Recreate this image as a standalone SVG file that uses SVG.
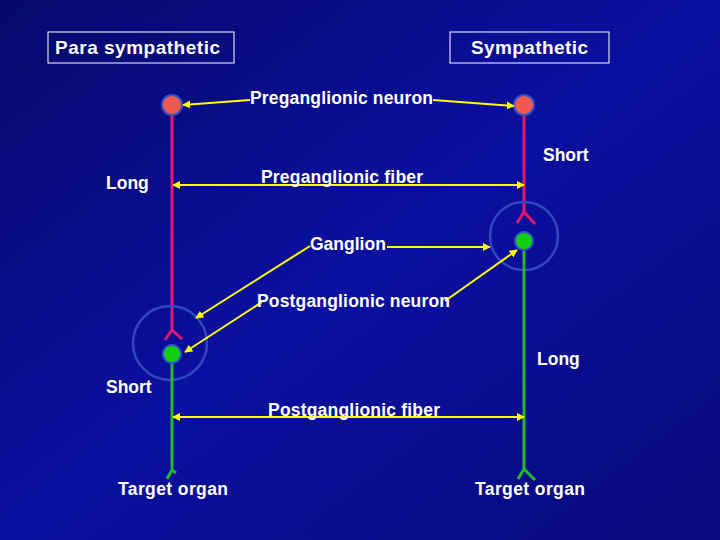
<svg xmlns="http://www.w3.org/2000/svg" width="720" height="540" viewBox="0 0 720 540">
<defs>
<linearGradient id="bg" x1="0" y1="0" x2="1" y2="1">
<stop offset="0" stop-color="#06086a"/><stop offset="0.5" stop-color="#0a10a0"/><stop offset="1" stop-color="#070a7a"/>
</linearGradient>
<marker id="ah" viewBox="0 0 10 10" refX="9" refY="5" markerWidth="4" markerHeight="4" orient="auto-start-reverse"><path d="M0,0L10,5L0,10z" fill="#ffff00"/></marker>
<style>
text{font-family:"Liberation Sans",Arial,sans-serif;font-weight:bold;fill:#fff;font-size:17.5px}
.t{font-size:19px}
.y{stroke:#ffff00;stroke-width:2;fill:none}
.r{stroke:#e0196e;stroke-width:3;fill:none}
.g{stroke:#22b830;stroke-width:3;fill:none}
.gc{stroke:#3048c0;stroke-width:2.5;fill:none}
.box{fill:none;stroke:#fff;stroke-width:1}
</style>
</defs>
<rect width="720" height="540" fill="url(#bg)"/>
<g id="titles">
<rect class="box" x="48" y="32" width="186" height="31"/><text class="t" x="55" y="54" textLength="165">Para sympathetic</text>
<rect class="box" x="450" y="32" width="159" height="31"/><text class="t" x="471" y="54" textLength="117">Sympathetic</text>
</g>
<g id="left-neurons">
<path class="r" d="M172,115V330M172,330L165,340M172,330L182,339"/>
<circle cx="170" cy="343" r="37" class="gc"/>
<path class="g" d="M172,363V470M172,470L167,479M172,470L176,473"/>
<circle cx="172" cy="105" r="10" fill="#f05a50" stroke="#3a50c8" stroke-width="2"/>
<circle cx="172" cy="354" r="9" fill="#10d010" stroke="#3a50c8" stroke-width="2"/>
</g>
<g id="right-neurons">
<path class="r" d="M524,115V212M524,212L517,223M524,212L535,224"/>
<circle cx="524" cy="236" r="34" class="gc"/>
<path class="g" d="M524,250V469M524,469L518,479M524,469L535,480"/>
<circle cx="524" cy="105" r="10" fill="#f05a50" stroke="#3a50c8" stroke-width="2"/>
<circle cx="524" cy="241" r="9" fill="#10d010" stroke="#3a50c8" stroke-width="2"/>
</g>
<g id="connectors">
<path class="y" d="M250,100L183,105" marker-end="url(#ah)"/>
<path class="y" d="M433,100L514,106" marker-end="url(#ah)"/>
<path class="y" d="M173,185H524" marker-start="url(#ah)" marker-end="url(#ah)"/>
<path class="y" d="M310,246L196,318" marker-end="url(#ah)"/>
<path class="y" d="M387,247L490,247" marker-end="url(#ah)"/>
<path class="y" d="M262,302L185,352" marker-end="url(#ah)"/>
<path class="y" d="M445,301L517,250" marker-end="url(#ah)"/>
<path class="y" d="M173,417H524" marker-start="url(#ah)" marker-end="url(#ah)"/>
</g>
<g id="labels">
<text x="250" y="104" textLength="183">Preganglionic neuron</text>
<text x="543" y="161">Short</text>
<text x="106" y="189">Long</text>
<text x="261" y="183" textLength="162">Preganglionic fiber</text>
<text x="310" y="250">Ganglion</text>
<text x="257" y="307" textLength="193">Postganglionic neuron</text>
<text x="537" y="365">Long</text>
<text x="106" y="393">Short</text>
<text x="268" y="416" textLength="172">Postganglionic fiber</text>
<text x="118" y="495" textLength="110">Target organ</text>
<text x="475" y="495" textLength="110">Target organ</text>
</g>
</svg>
